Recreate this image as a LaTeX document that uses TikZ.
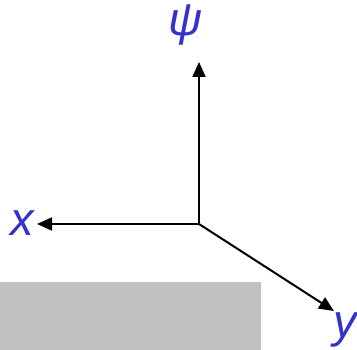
\documentclass[tikz,border=0pt]{standalone}
\usepackage{fontspec}
\setmainfont{Liberation Sans}
\usetikzlibrary{arrows.meta}
\definecolor{axisblue}{RGB}{51,51,204}
\definecolor{platgray}{RGB}{192,192,192}

\begin{document}
\begin{tikzpicture}[x=1pt, y=-1pt, >={Triangle[length=15pt, width=13pt]},
    axislabel/.style={text=axisblue, font=\fontsize{47}{47}\selectfont\itshape, inner sep=0pt}]
    \useasboundingbox (0,0) rectangle (357,350);
    % Plate
    \fill [platgray] (0,282) rectangle (261,350);
    % Axes
    \coordinate (O) at (199,224);
    \coordinate (psiend) at (199,62);
    \coordinate (xend) at (37,224);
    \coordinate (yend) at (334,311);
    \draw [->, line width=2pt] (O) -- (psiend);
    \draw [->, line width=2pt] (O) -- (xend);
    \draw [->, line width=2pt] (O) -- (yend);
    % Labels
    \node [axislabel] (psi) at (186,25) {ψ};
    \node [axislabel, anchor=base] (x) at (22,236) {x};
    \node [axislabel, anchor=base] (y) at (345,338) {y};
\end{tikzpicture}
\end{document}
